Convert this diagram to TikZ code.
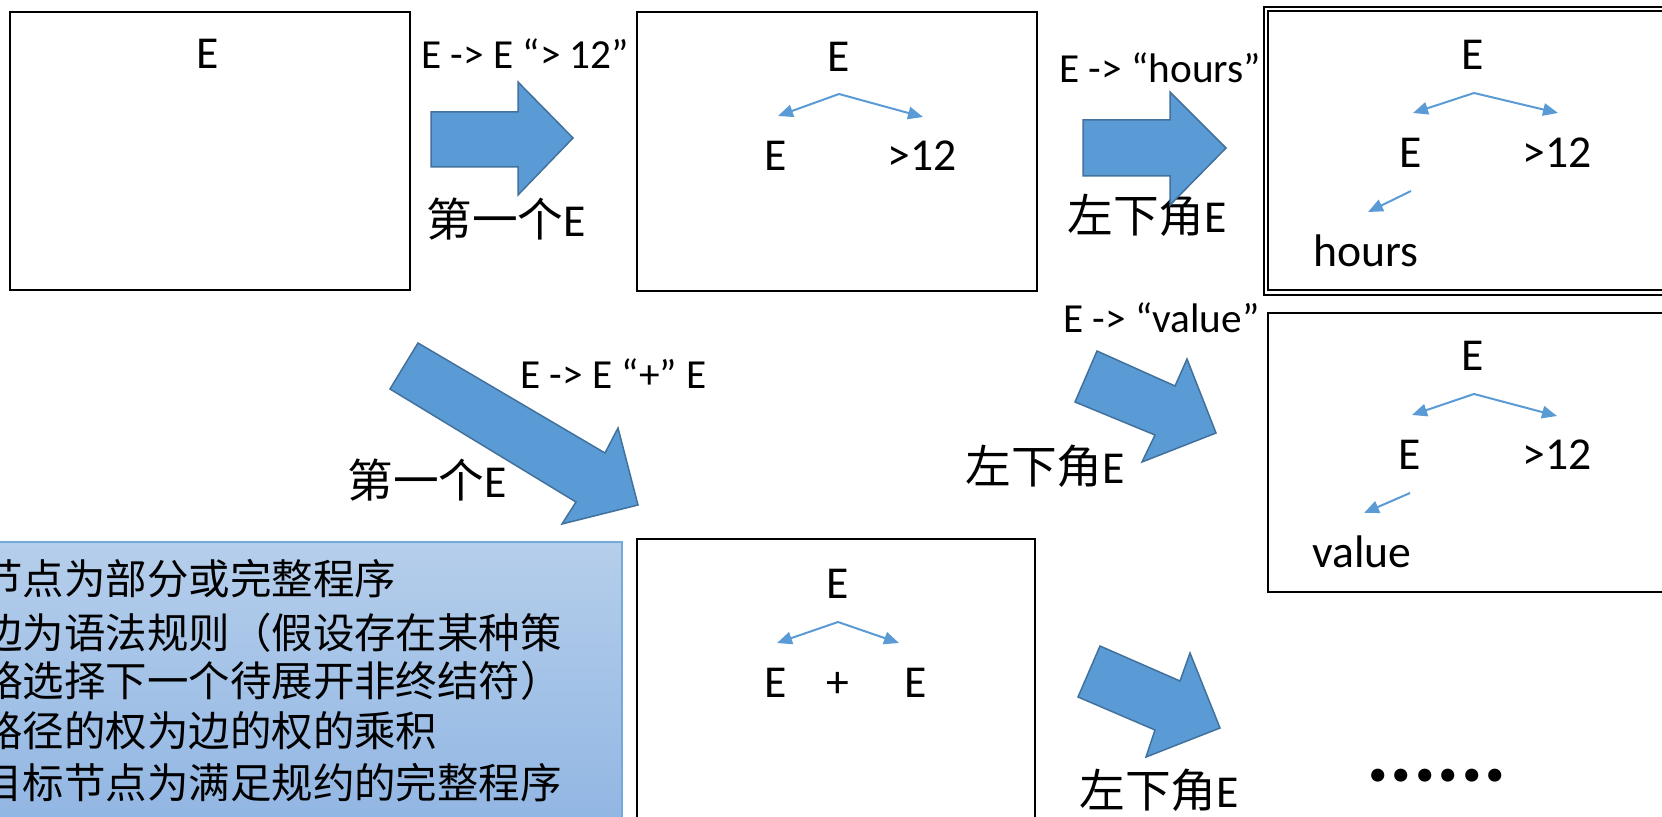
\documentclass[tikz,border=0pt]{standalone}
\usepackage{fontspec}
\setmainfont{Carlito}
\newfontfamily\cjk{Noto Sans CJK SC}
\usepackage{xcolor}
\usetikzlibrary{arrows.meta}
\definecolor{offblue}{HTML}{5B9BD5}
\definecolor{offedge}{HTML}{41719C}
\definecolor{notetop}{HTML}{B5CEEB}
\definecolor{notebot}{HTML}{8EB4E2}

\begin{document}
\begin{tikzpicture}[x=0.02cm,y=-0.02cm,
  every node/.style={inner sep=0pt,font=\fontsize{26}{31}\selectfont},
  lbl/.style={anchor=base west,font=\fontsize{23.5}{28}\selectfont},
  tag/.style={anchor=base west},
  sym/.style={anchor=base},
  panel/.style={draw=black,line width=0.05cm},
  fatarrow/.style={fill=offblue,draw=offedge,line width=0.03cm},
  branch/.style={draw=offblue,line width=0.04cm,-{Triangle[length=0.3cm,width=0.25cm]}},
  note/.style={anchor=base west,font=\cjk\fontsize{23.6}{28}\selectfont}]
\useasboundingbox (0,0) rectangle (1662,817);
\clip (0,0) rectangle (1662,817);

% panels
\draw[panel] (10,12) rectangle (410,290);
\draw[panel] (637,12) rectangle (1037,291);
\draw[panel] (1264,7) rectangle (1690,295);
\draw[draw=black,line width=0.03cm] (1268,11) rectangle (1690,290);
\draw[panel] (1268,313) rectangle (1690,592);
\draw[panel] (637,539) rectangle (1035,850);
\shade[top color=notetop,bottom color=notebot,draw=offblue!85,line width=0.025cm] (-20,542) rectangle (622,850);

% start
\node[sym] (p1root) at (208,69) {E};

% E -> E ">12"
\node[sym] (p2root) at (839,72) {E};
\node[sym] (p2left) at (776,171) {E};
\node[sym] (p2right) at (922,171) {>12};
\coordinate (p2fork) at (839,94);
\coordinate (p2l) at (778,116);
\coordinate (p2r) at (923,117);
\draw[branch] (p2fork)--(p2l);\draw[branch] (p2fork)--(p2r);

% E -> "hours"
\node[sym] (p3root) at (1473,70) {E};
\node[sym] (p3left) at (1411,168) {E};
\node[sym] (p3right) at (1557,168) {>12};
\node[sym] (p3leaf) at (1366,267) {hours};
\coordinate (p3fork) at (1474,93);
\coordinate (p3l) at (1413,113);
\coordinate (p3r) at (1558,113);
\coordinate (p3down) at (1411,191);
\coordinate (p3leafend) at (1368,212);
\draw[branch] (p3fork)--(p3l);\draw[branch] (p3fork)--(p3r);
\draw[branch] (p3down)--(p3leafend);

% E -> "value"
\node[sym] (p4root) at (1473,370) {E};
\node[sym] (p4left) at (1410,469) {E};
\node[sym] (p4right) at (1557,469) {>12};
\node[sym] (p4leaf) at (1362,567) {value};
\coordinate (p4fork) at (1474,394);
\coordinate (p4l) at (1412,415);
\coordinate (p4r) at (1557,416);
\coordinate (p4down) at (1410,493);
\coordinate (p4leafend) at (1364,513);
\draw[branch] (p4fork)--(p4l);\draw[branch] (p4fork)--(p4r);
\draw[branch] (p4down)--(p4leafend);

% E -> E "+" E
\node[sym] (p5root) at (838,598) {E};
\node[sym] (p5left) at (776,697) {E};
\node[sym] (p5plus) at (838,697) {+};
\node[sym] (p5right) at (916,697) {E};
\coordinate (p5fork) at (838,622);
\coordinate (p5l) at (777,643);
\coordinate (p5r) at (899,643);
\draw[branch] (p5fork)--(p5l);\draw[branch] (p5fork)--(p5r);

% rule labels
\node[lbl] (rule1) at (421,69) {E -> E “> 12”};
\node[tag] (pick1) at (426,237) {{\cjk 第一个}E};
\node[lbl] (rule2) at (1059,83) {E -> “hours”};
\node[tag] (pick2) at (1067,233) {{\cjk 左下角}E};
\node[lbl] (rule3) at (520,388) {E -> E “+” E};
\node[tag] (pick3) at (347,497) {{\cjk 第一个}E};
\node[lbl] (rule4) at (1063,333) {E -> “value”};
\node[tag] (pick4) at (965,483) {{\cjk 左下角}E};
\node[tag] (pick5) at (1079,807) {{\cjk 左下角}E};
\node[anchor=base west,font=\bfseries\fontsize{50}{60}\selectfont] (more) at (1366,781) {......};

% block arrows
\draw[fatarrow] (431,112)--(518,112)--(518,82)--(573,138)--(518,195)--(518,167)--(431,167)--cycle;
\draw[fatarrow] (1083,120)--(1170,120)--(1170,92)--(1226,148)--(1170,205)--(1170,176)--(1083,176)--cycle;
\draw[fatarrow] (418,343)--(605,453)--(618,428)--(638,505)--(562,524)--(576,502)--(390,389)--cycle;
\draw[fatarrow] (1097,351)--(1175,386)--(1187,359)--(1216,433)--(1142,462)--(1155,435)--(1075,402)--cycle;
\draw[fatarrow] (1100,646)--(1180,681)--(1190,653)--(1220,728)--(1146,757)--(1155,730)--(1078,697)--cycle;

% notes
\node[note] (note1) at (-19,594) {节点为部分或完整程序};
\node[note] (note2) at (-19,648) {边为语法规则（假设存在某种策};
\node[note] (note3) at (-19,696) {略选择下一个待展开非终结符）};
\node[note] (note4) at (-19,746) {路径的权为边的权的乘积};
\node[note] (note5) at (-19,798) {目标节点为满足规约的完整程序};
\end{tikzpicture}
\end{document}
